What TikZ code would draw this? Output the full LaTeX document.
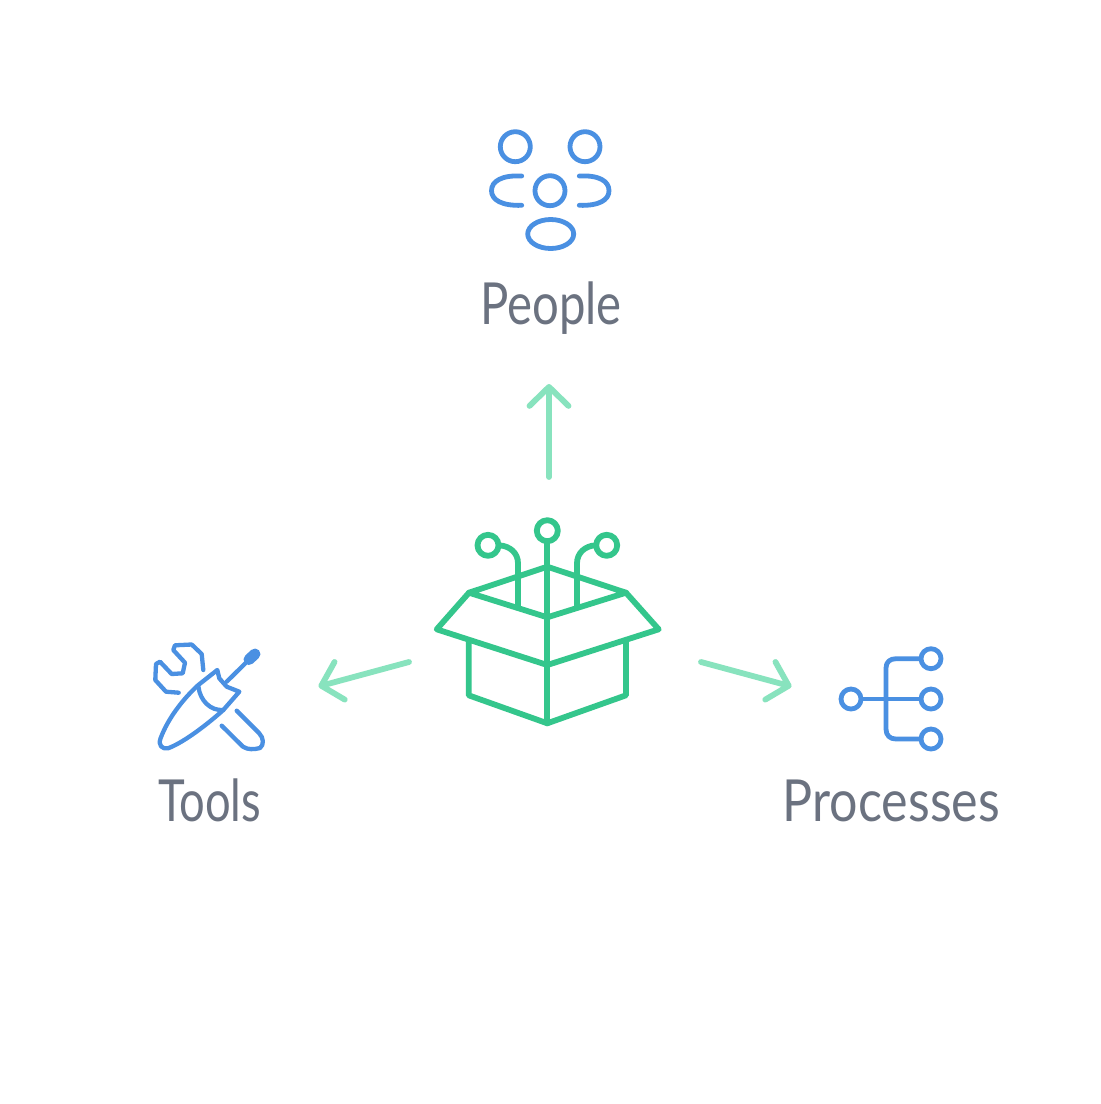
\documentclass[tikz,border=0pt]{standalone}
\usepackage{fontspec}
\usetikzlibrary{arrows.meta}
\newfontfamily\handfont[FakeStretch=0.84]{Lato}
\definecolor{boxgreen}{HTML}{34C68C}
\definecolor{arrowgreen}{HTML}{88E3BE}
\definecolor{iconblue}{HTML}{4A90E2}
\definecolor{labelgray}{HTML}{6B7280}
\tikzset{
  boxline/.style={draw=boxgreen,line width=5.8pt,line join=round,line cap=round},
  iconline/.style={draw=iconblue,line width=4.8pt,line join=round,line cap=round},
  toolline/.style={draw=iconblue,line width=4.3pt,line join=round,line cap=round},
  flow/.style={draw=arrowgreen,line width=5.8pt,line cap=round,line join=round,
    -{Straight Barb[length=19pt,width=39pt,line width=5.8pt,round]}},
  label/.style={text=labelgray,font=\handfont\fontsize{58}{60}\selectfont,inner sep=0pt,anchor=base},
}
\begin{document}
\begin{tikzpicture}[x=1pt,y=-1pt]
\useasboundingbox (0,0) rectangle (1101,1104);
\fill[white] (0,0) rectangle (1101,1104);
% box
\draw[boxline] (468.7,641.7) -- (468.7,695.3) -- (547.3,723.3) -- (626,695.3) -- (626,641.7);
\draw[boxline] (469,592.7) -- (547.3,566.7) -- (626,592.7) -- (547.3,617.3) -- cycle;
\draw[boxline] (469,592.7) -- (436.7,629.3) -- (547.3,665) -- (658.7,629.3) -- (626,592.7);
\draw[boxline] (547.3,541.7) -- (547.3,723.3);
\draw[boxline] (499.3,545.3) .. controls (510,546) and (518,553) .. (518,563.3) -- (518,606.7);
\draw[boxline] (595.3,545.3) .. controls (585,546) and (577,553) .. (577,563.3) -- (577,606.7);
\draw[boxline] (547.3,530.7) circle[radius=10.5];
\draw[boxline] (488,545.3) circle[radius=10.5];
\draw[boxline] (606.7,545.3) circle[radius=10.5];
% people
\draw[iconline] (515.3,146.7) circle[radius=15];
\draw[iconline] (585,146.7) circle[radius=15];
\draw[iconline] (550,190.7) circle[radius=15];
\draw[iconline] (550.7,234) ellipse[x radius=23,y radius=14.5];
\draw[iconline] (521.7,176) .. controls (502,175) and (491.5,181) .. (491.5,190.7) .. controls (491.5,200) and (502,206) .. (521.7,205.3);
\draw[iconline] (579.3,176) .. controls (599,175) and (609,181) .. (609,190.7) .. controls (609,200) and (599,206) .. (579.3,205.3);
% tools
\draw[toolline] (203.3,670) -- (201.7,654) -- (191.7,644.5) -- (175,645.3) -- (173.3,650) -- (185,662.7) -- (182.7,673.3) -- (171.7,674) -- (160,661.7) -- (156,664) -- (155.3,680) -- (166,691.7) -- (178.7,692.7);
\draw[toolline] (198.3,685) -- (217.3,670) -- (219.3,678.3) -- (226.7,686.7) -- (239.3,691.7) -- (223.3,710)
  .. controls (210,722) and (185,742) .. (168,748.3) .. controls (162,749.5) and (158,745) .. (160.5,738.5)
  .. controls (168,718) and (184,698) .. (198.3,685);
\draw[toolline] (198.5,687) .. controls (200,700) and (210,711) .. (223.3,710);
\draw[toolline] (226.7,681.7) -- (252.7,656);
\draw[iconblue,line width=11pt,line cap=round] (249,659.5) -- (255,654);
\draw[toolline] (236.7,710.7) -- (259,733) .. controls (264,738) and (264,745) .. (260,748) .. controls (254,749.5) and (248,750) .. (243,746.7) -- (221.7,725.7);
% processes
\draw[iconline] (862.7,699) -- (919.3,699);
\draw[iconline] (919.3,658.7) -- (896,658.7) .. controls (890,658.7) and (886,662) .. (886,668) -- (886,729) .. controls (886,735.5) and (890,739) .. (896,739) -- (919.3,739);
\draw[iconline] (851,699) circle[radius=10];
\draw[iconline] (931,658.7) circle[radius=10];
\draw[iconline] (931,699) circle[radius=10];
\draw[iconline] (931,739) circle[radius=10];
% labels
\node[label] (people) at (551,324) {\scalebox{0.97}[1]{People}};
\node[label] (tools) at (209.5,821) {\scalebox{0.93}[1]{Tools}};
\node[label] (processes) at (891.5,821) {\scalebox{1.03}[1]{Processes}};
% connectors
\coordinate (cUpStart) at (549,477);
\coordinate (cUpEnd) at (549,384);
\coordinate (cLeftStart) at (409,662);
\coordinate (cLeftEnd) at (318.5,686.5);
\coordinate (cRightStart) at (701,662);
\coordinate (cRightEnd) at (791.5,686.5);
\draw[flow] (cUpStart) -- (cUpEnd);
\draw[flow] (cLeftStart) -- (cLeftEnd);
\draw[flow] (cRightStart) -- (cRightEnd);
\end{tikzpicture}
\end{document}
